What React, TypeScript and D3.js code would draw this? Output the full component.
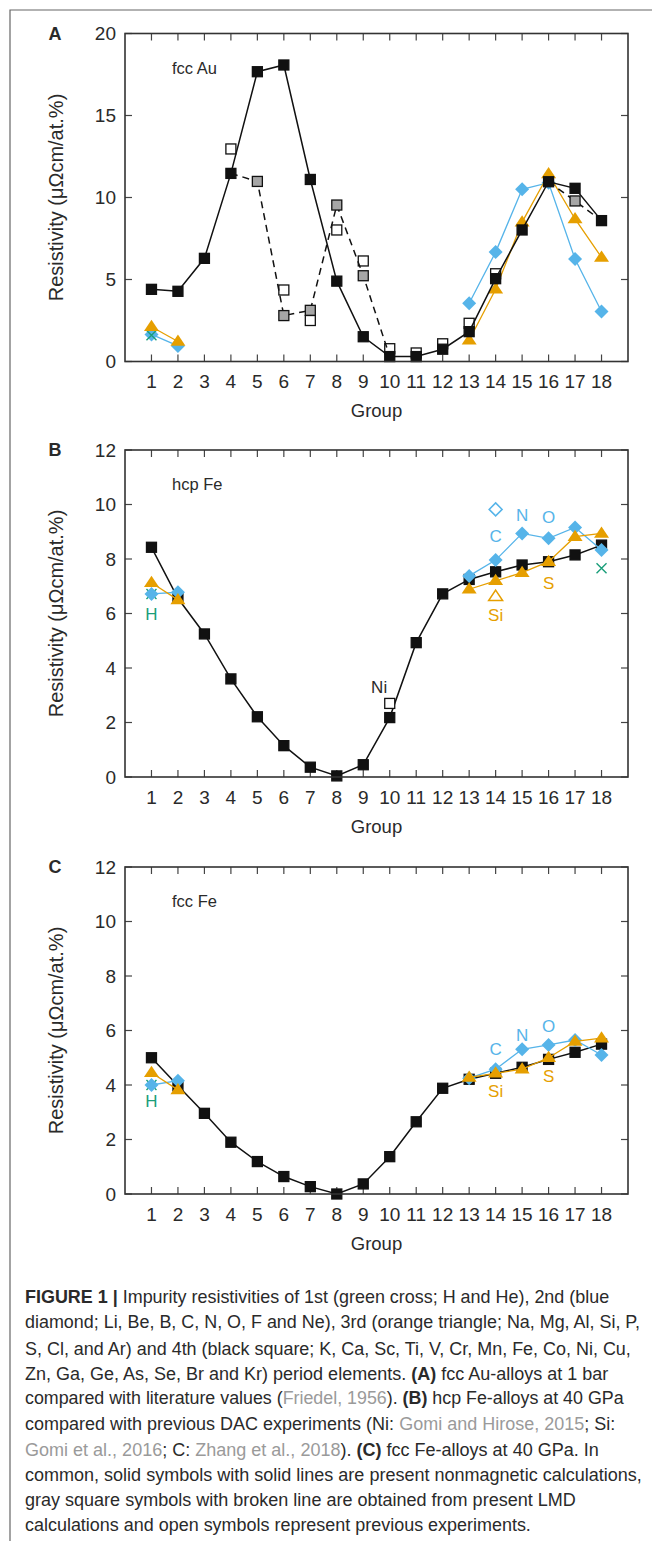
import React, { useLayoutEffect, useRef, useState } from "react";
import * as d3 from "d3";

// ---------- categories & ticks ----------
const groups = [1, 2, 3, 4, 5, 6, 7, 8, 9, 10, 11, 12, 13, 14, 15, 16, 17, 18];
const auYTicks = [0, 5, 10, 15, 20];
const feYTicks = [0, 2, 4, 6, 8, 10, 12];

// ---------- Panel A: fcc Au ----------
const auP4 = [4.40, 4.28, 6.29, 11.47, 17.67, 18.08, 11.10, 4.90, 1.51, 0.30, 0.30, 0.75, 1.82, 5.05, 8.02, 10.96, 10.56, 8.59];
const auLmdGroups = [4, 5, 6, 7, 8, 9, 10, 16, 17, 18];
const auLmdVals = [11.47, 10.98, 2.80, 3.12, 9.54, 5.23, 0.30, 10.96, 9.79, 8.59];
const auGrayGroups = [5, 6, 7, 8, 9, 17];
const auGrayVals = [10.98, 2.80, 3.12, 9.54, 5.23, 9.79];
const auExpGroups = [4, 6, 7, 8, 9, 10, 11, 12, 13, 14];
const auExpVals = [12.96, 4.36, 2.50, 8.02, 6.13, 0.78, 0.52, 1.08, 2.33, 5.35];
const auP2Groups = [1, 2, 13, 14, 15, 16, 17, 18];
const auP2Vals = [1.65, 0.95, 3.55, 6.67, 10.50, 10.90, 6.25, 3.05];
const auP3Groups = [1, 2, 13, 14, 15, 16, 17, 18];
const auP3Vals = [2.12, 1.22, 1.30, 4.40, 8.50, 11.43, 8.69, 6.35];
const auP1Groups = [1];
const auP1Vals = [1.60];

// ---------- Panel B: hcp Fe ----------
const hcpP4 = [8.43, 6.56, 5.25, 3.60, 2.21, 1.15, 0.36, 0.04, 0.45, 2.18, 4.93, 6.72, 7.25, 7.53, 7.78, 7.90, 8.15, 8.51];
const hcpP2Groups = [1, 2, 13, 14, 15, 16, 17, 18];
const hcpP2Vals = [6.72, 6.78, 7.38, 7.96, 8.94, 8.76, 9.16, 8.33];
const hcpP3Groups = [1, 2, 13, 14, 15, 16, 17, 18];
const hcpP3Vals = [7.13, 6.50, 6.89, 7.20, 7.50, 7.90, 8.82, 8.94];
const hcpP1Groups = [1, 18];
const hcpP1Vals = [6.72, 7.66];
const hcpExpSqGroups = [10];
const hcpExpSqVals = [2.70];
const hcpExpDiaGroups = [14];
const hcpExpDiaVals = [9.82];
const hcpExpTriGroups = [14];
const hcpExpTriVals = [6.62];
const hcpLabelText = ["H", "C", "N", "O", "Si", "S", "Ni"];
const hcpLabelGroup = [1, 14, 15, 16, 14, 16, 9.6];
const hcpLabelVal = [5.98, 8.82, 9.61, 9.52, 5.91, 7.11, 3.27];
const hcpLabelKind = ["p1", "p2", "p2", "p2", "p3", "p3", "p4"];

// ---------- Panel C: fcc Fe ----------
const fccP4 = [5.00, 3.97, 2.96, 1.90, 1.19, 0.64, 0.27, 0.00, 0.37, 1.37, 2.65, 3.88, 4.21, 4.43, 4.65, 4.94, 5.20, 5.50];
const fccP2Groups = [1, 2, 13, 14, 15, 16, 17, 18];
const fccP2Vals = [4.00, 4.16, 4.25, 4.58, 5.31, 5.47, 5.65, 5.10];
const fccP3Groups = [1, 2, 13, 14, 15, 16, 17, 18];
const fccP3Vals = [4.45, 3.82, 4.28, 4.43, 4.58, 5.00, 5.60, 5.72];
const fccP1Groups = [1];
const fccP1Vals = [4.00];
const fccLabelText = ["H", "C", "N", "O", "Si", "S"];
const fccLabelGroup = [1, 14, 15, 16, 14, 16];
const fccLabelVal = [3.39, 5.32, 5.80, 6.14, 3.75, 4.33];
const fccLabelKind = ["p1", "p2", "p2", "p2", "p3", "p3"];

// ---------- caption ----------
type Seg = { t: string; b?: boolean; g?: boolean };
const captionLines: Seg[][] = [
  [{ t: "FIGURE 1 | ", b: true }, { t: "Impurity resistivities of 1st (green cross; H and He), 2nd (blue" }],
  [{ t: "diamond; Li, Be, B, C, N, O, F and Ne), 3rd (orange triangle; Na, Mg, Al, Si, P," }],
  [{ t: "S, Cl, and Ar) and 4th (black square; K, Ca, Sc, Ti, V, Cr, Mn, Fe, Co, Ni, Cu," }],
  [{ t: "Zn, Ga, Ge, As, Se, Br and Kr) period elements. " }, { t: "(A)", b: true }, { t: " fcc Au-alloys at 1 bar" }],
  [{ t: "compared with literature values (" }, { t: "Friedel, 1956", g: true }, { t: "). " }, { t: "(B)", b: true }, { t: " hcp Fe-alloys at 40 GPa" }],
  [{ t: "compared with previous DAC experiments (Ni: " }, { t: "Gomi and Hirose, 2015", g: true }, { t: "; Si:" }],
  [{ t: "Gomi et al., 2016", g: true }, { t: "; C: " }, { t: "Zhang et al., 2018", g: true }, { t: "). " }, { t: "(C)", b: true }, { t: " fcc Fe-alloys at 40 GPa. In" }],
  [{ t: "common, solid symbols with solid lines are present nonmagnetic calculations," }],
  [{ t: "gray square symbols with broken line are obtained from present LMD" }],
  [{ t: "calculations and open symbols represent previous experiments." }],
];
const captionWidths = [584, 615, 606, 583, 599, 590, 574, 617, 551, 506];

// ---------- style ----------
const FONT = "'Liberation Sans', Arial, Helvetica, sans-serif";
const BLUE = "#56b4e9";
const ORANGE = "#e69f00";
const GREEN = "#1a9e7a";
const INK = "#111";
const TXT = "#2a2a2a";

const X0 = 125;
const X1 = 628;

type Pt = [number, number];
function runs(gs: number[], vs: number[]): Pt[][] {
  const out: Pt[][] = [];
  let cur: Pt[] = [];
  gs.forEach((g, i) => {
    if (i > 0 && g - gs[i - 1] > 1) {
      out.push(cur);
      cur = [];
    }
    cur.push([g, vs[i]]);
  });
  if (cur.length) out.push(cur);
  return out;
}

function Square({ x, y, fill, s = 10 }: { x: number; y: number; fill: string; s?: number }) {
  return <rect x={x - s / 2} y={y - s / 2} width={s} height={s} fill={fill} stroke={INK} strokeWidth={1.3} />;
}
function Diamond({ x, y, fill, stroke, r = 7 }: { x: number; y: number; fill: string; stroke?: string; r?: number }) {
  return (
    <path
      d={`M${x},${y - r}L${x + r},${y}L${x},${y + r}L${x - r},${y}Z`}
      fill={fill}
      stroke={stroke || "none"}
      strokeWidth={1.5}
    />
  );
}
function Triangle({ x, y, fill, stroke, r = 7.5 }: { x: number; y: number; fill: string; stroke?: string; r?: number }) {
  const h = r * 1.5;
  return (
    <path
      d={`M${x},${y - h * 0.62}L${x + r},${y + h * 0.38}L${x - r},${y + h * 0.38}Z`}
      fill={fill}
      stroke={stroke || "none"}
      strokeWidth={1.5}
    />
  );
}
function Cross({ x, y, r = 5 }: { x: number; y: number; r?: number }) {
  return (
    <path d={`M${x - r},${y - r}L${x + r},${y + r}M${x - r},${y + r}L${x + r},${y - r}`} stroke={GREEN} strokeWidth={1.4} />
  );
}

type PanelProps = {
  letter: string;
  name: string;
  top: number;
  bottom: number;
  ymax: number;
  yTicks: number[];
  children: (x: d3.ScaleLinear<number, number>, y: d3.ScaleLinear<number, number>) => React.ReactNode;
};

function Panel({ letter, name, top, bottom, ymax, yTicks, children }: PanelProps) {
  const x = d3.scaleLinear().domain([0, 19]).range([X0, X1]);
  const y = d3.scaleLinear().domain([0, ymax]).range([bottom, top]);
  const tl = 7;
  return (
    <g fontFamily={FONT}>
      {groups.map((g) => (
        <g key={"xt" + g} stroke="#444" strokeWidth={1.2}>
          <line x1={x(g)} x2={x(g)} y1={bottom} y2={bottom - tl} />
          <line x1={x(g)} x2={x(g)} y1={top} y2={top + tl} />
        </g>
      ))}
      {yTicks.map((t) => (
        <g key={"yt" + t} stroke="#444" strokeWidth={1.2}>
          <line x1={X0} x2={X0 + tl} y1={y(t)} y2={y(t)} />
          <line x1={X1} x2={X1 - tl} y1={y(t)} y2={y(t)} />
        </g>
      ))}
      {children(x, y)}
      <rect x={X0} y={top} width={X1 - X0} height={bottom - top} fill="none" stroke="#333" strokeWidth={1.6} />
      {groups.map((g) => (
        <text key={"xl" + g} x={x(g)} y={bottom + 20} textAnchor="middle" dominantBaseline="central" fontSize={19} fill={TXT}>
          {g}
        </text>
      ))}
      {yTicks.map((t) => (
        <text key={"yl" + t} x={X0 - 9} y={y(t)} textAnchor="end" dominantBaseline="central" fontSize={19} fill={TXT}>
          {t}
        </text>
      ))}
      <text x={(X0 + X1) / 2} y={bottom + 49} textAnchor="middle" dominantBaseline="central" fontSize={18.5} fill={TXT}>
        Group
      </text>
      <text
        transform={`translate(${56},${(top + bottom) / 2}) rotate(-90)`}
        textAnchor="middle"
        dominantBaseline="central"
        fontSize={20}
        fill={TXT}
      >
        Resistivity (μΩcm/at.%)
      </text>
      <text x={55} y={top} textAnchor="middle" dominantBaseline="central" fontSize={18} fontWeight="bold" fill={TXT}>
        {letter}
      </text>
      <text x={172} y={top + 34} dominantBaseline="central" fontSize={16.5} fill={TXT}>
        {name}
      </text>
    </g>
  );
}

function lineFor(x: d3.ScaleLinear<number, number>, y: d3.ScaleLinear<number, number>) {
  return d3
    .line<Pt>()
    .x((d) => x(d[0]))
    .y((d) => y(d[1]));
}

function SeriesLine({ gs, vs, x, y, color, width = 1.3, dash }: any) {
  const ln = lineFor(x, y);
  return (
    <g>
      {runs(gs, vs).map((r, i) => (
        <path key={i} d={ln(r) || ""} fill="none" stroke={color} strokeWidth={width} strokeDasharray={dash} />
      ))}
    </g>
  );
}

function labelColor(kind: string) {
  if (kind === "p1") return GREEN;
  if (kind === "p2") return BLUE;
  if (kind === "p3") return ORANGE;
  return TXT;
}

function Labels({ texts, gs, vs, kinds, x, y }: any) {
  return (
    <g>
      {texts.map((t: string, i: number) => (
        <text
          key={i}
          x={x(gs[i])}
          y={y(vs[i])}
          textAnchor="middle"
          dominantBaseline="central"
          fontSize={17}
          fontFamily={FONT}
          fill={labelColor(kinds[i])}
        >
          {t}
        </text>
      ))}
    </g>
  );
}

function P4({ vals, x, y }: any) {
  return (
    <g>
      <SeriesLine gs={groups} vs={vals} x={x} y={y} color={INK} width={1.5} />
      {groups.map((g, i) => (
        <Square key={g} x={x(g)} y={y(vals[i])} fill={INK} />
      ))}
    </g>
  );
}
function P2({ gs, vs, x, y }: any) {
  return (
    <g>
      <SeriesLine gs={gs} vs={vs} x={x} y={y} color={BLUE} />
      {gs.map((g: number, i: number) => (
        <Diamond key={g} x={x(g)} y={y(vs[i])} fill={BLUE} />
      ))}
    </g>
  );
}
function P3({ gs, vs, x, y }: any) {
  return (
    <g>
      <SeriesLine gs={gs} vs={vs} x={x} y={y} color={ORANGE} />
      {gs.map((g: number, i: number) => (
        <Triangle key={g} x={x(g)} y={y(vs[i])} fill={ORANGE} />
      ))}
    </g>
  );
}
function P1({ gs, vs, x, y }: any) {
  return (
    <g>
      {gs.map((g: number, i: number) => (
        <Cross key={g} x={x(g)} y={y(vs[i])} />
      ))}
    </g>
  );
}

function CaptionLine({ segs, y, width }: { segs: Seg[]; y: number; width: number }) {
  const ref = useRef<SVGTextElement>(null);
  const [sx, setSx] = useState(0.92);
  useLayoutEffect(() => {
    if (ref.current) {
      const w = ref.current.getComputedTextLength();
      if (w > 0) setSx(width / w);
    }
  }, [width]);
  return (
    <g transform={`translate(25,${y}) scale(${sx},1)`}>
      <text ref={ref} x={0} y={0} dominantBaseline="central" style={{ whiteSpace: "pre" }}>
        {segs.map((s, j) => (
          <tspan key={j} fontWeight={s.b ? "bold" : "normal"} fill={s.g ? "#9a9a9a" : TXT}>
            {s.t}
          </tspan>
        ))}
      </text>
    </g>
  );
}

export default function App() {
  const capTop = 1297;
  const capStep = 25.25;
  return (
    <svg width={652} height={1541} viewBox="0 0 652 1541" style={{ display: "block", position: "absolute", left: 0, top: 0 }}>
      <rect x={0} y={0} width={652} height={1541} fill="#fff" />
      <path d="M10,1541V10H652" fill="none" stroke="#666" strokeWidth={1.2} />

      <Panel letter="A" name="fcc Au" top={33.5} bottom={361.5} ymax={20} yTicks={auYTicks}>
        {(x, y) => (
          <g>
            <P2 gs={auP2Groups} vs={auP2Vals} x={x} y={y} />
            <P1 gs={auP1Groups} vs={auP1Vals} x={x} y={y} />
            <P3 gs={auP3Groups} vs={auP3Vals} x={x} y={y} />
            {auExpGroups.map((g, i) => (
              <Square key={"e" + g} x={x(g)} y={y(auExpVals[i])} fill="#fff" />
            ))}
            <SeriesLine gs={auLmdGroups} vs={auLmdVals} x={x} y={y} color={INK} width={1.5} dash="7,5" />
            {auGrayGroups.map((g, i) => (
              <Square key={"g" + g} x={x(g)} y={y(auGrayVals[i])} fill="#a6a6a6" />
            ))}
            <P4 vals={auP4} x={x} y={y} />
          </g>
        )}
      </Panel>

      <Panel letter="B" name="hcp Fe" top={450} bottom={777} ymax={12} yTicks={feYTicks}>
        {(x, y) => (
          <g>
            <P1 gs={hcpP1Groups} vs={hcpP1Vals} x={x} y={y} />
            <P4 vals={hcpP4} x={x} y={y} />
            <P2 gs={hcpP2Groups} vs={hcpP2Vals} x={x} y={y} />
            <P3 gs={hcpP3Groups} vs={hcpP3Vals} x={x} y={y} />
            {hcpExpSqGroups.map((g, i) => (
              <Square key={"s" + g} x={x(g)} y={y(hcpExpSqVals[i])} fill="#fff" />
            ))}
            {hcpExpDiaGroups.map((g, i) => (
              <Diamond key={"d" + g} x={x(g)} y={y(hcpExpDiaVals[i])} fill="#fff" stroke={BLUE} r={6.5} />
            ))}
            {hcpExpTriGroups.map((g, i) => (
              <Triangle key={"t" + g} x={x(g)} y={y(hcpExpTriVals[i])} fill="#fff" stroke={ORANGE} r={7} />
            ))}
            <Labels texts={hcpLabelText} gs={hcpLabelGroup} vs={hcpLabelVal} kinds={hcpLabelKind} x={x} y={y} />
          </g>
        )}
      </Panel>

      <Panel letter="C" name="fcc Fe" top={867} bottom={1194} ymax={12} yTicks={feYTicks}>
        {(x, y) => (
          <g>
            <P1 gs={fccP1Groups} vs={fccP1Vals} x={x} y={y} />
            <P4 vals={fccP4} x={x} y={y} />
            <P2 gs={fccP2Groups} vs={fccP2Vals} x={x} y={y} />
            <P3 gs={fccP3Groups} vs={fccP3Vals} x={x} y={y} />
            <Labels texts={fccLabelText} gs={fccLabelGroup} vs={fccLabelVal} kinds={fccLabelKind} x={x} y={y} />
          </g>
        )}
      </Panel>

      <g fontFamily={FONT} fontSize={18.5} fill={TXT}>
        {captionLines.map((segs, i) => (
          <CaptionLine key={i} segs={segs} y={capTop + i * capStep} width={captionWidths[i]} />
        ))}
      </g>
    </svg>
  );
}
